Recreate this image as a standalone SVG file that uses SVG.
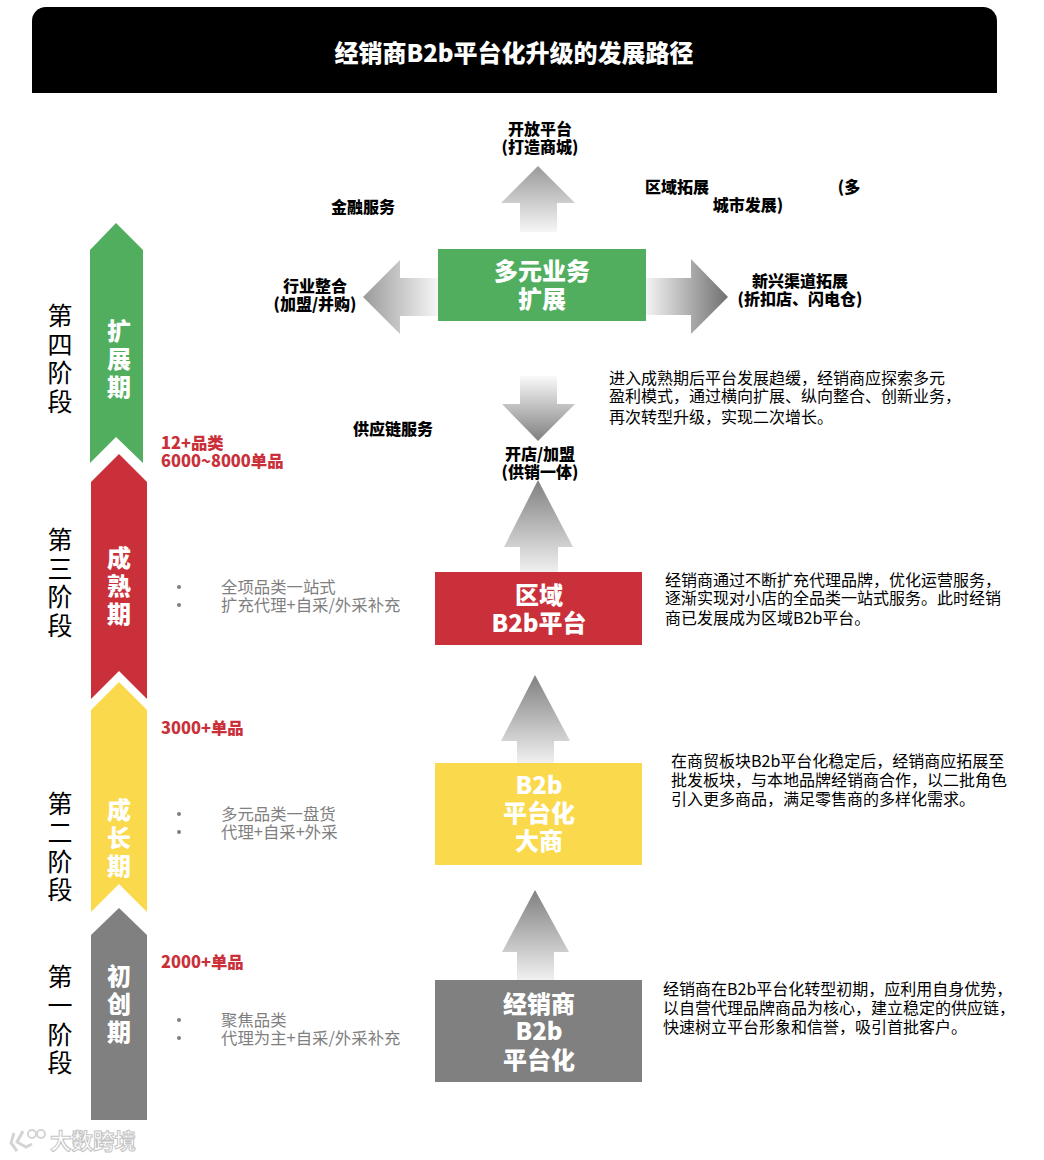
<svg xmlns="http://www.w3.org/2000/svg" width="1044" height="1160" viewBox="0 0 1044 1160">
<style>
text{font-family:"Noto Sans CJK SC","Noto Sans",sans-serif}
.t{font-weight:900;fill:#000;font-size:16px;text-anchor:middle}
.box{font-weight:900;fill:#fff;font-size:24px;text-anchor:middle}
.sm{font-weight:900;fill:#fff;font-size:24px;text-anchor:middle}
.st{font-size:25px;fill:#000;text-anchor:middle}
.red{font-weight:900;fill:#c9303a;font-size:16.4px}
.gr{font-size:16.4px;fill:#7f7f7f}
.d{font-size:16px;fill:#000}
</style>
<defs>
<linearGradient id="up" x1="0" y1="0" x2="0" y2="1"><stop offset="0" stop-color="#9a9a9a"/><stop offset="1" stop-color="#f6f6f6"/></linearGradient>
<linearGradient id="up2" x1="0" y1="0" x2="0" y2="1"><stop offset="0" stop-color="#808080"/><stop offset="1" stop-color="#f0f0f0"/></linearGradient>
<linearGradient id="down" x1="0" y1="0" x2="0" y2="1"><stop offset="0" stop-color="#fafafa"/><stop offset="1" stop-color="#7f7f7f"/></linearGradient>
<linearGradient id="left" x1="0" y1="0" x2="1" y2="0"><stop offset="0" stop-color="#9a9a9a"/><stop offset="1" stop-color="#f6f6f6"/></linearGradient>
<linearGradient id="right" x1="0" y1="0" x2="1" y2="0"><stop offset="0" stop-color="#f4f4f4"/><stop offset="1" stop-color="#707070"/></linearGradient>
</defs>
<rect width="1044" height="1160" fill="#fff"/>
<g id="header">
<path d="M32 93V21a14 14 0 0 1 14-14H983a14 14 0 0 1 14 14V93Z" fill="#000"/>
<text x="514" y="62" font-size="24" font-weight="900" fill="#fff" text-anchor="middle">经销商B2b平台化升级的发展路径</text>
</g>
<g id="connectors">
<polygon points="538,166 575,203 557,203 557,232 520,232 520,203 501,203" fill="url(#up)"/>
<polygon points="363,297 400,260 400,278 438,278 438,316 400,316 400,334" fill="url(#left)"/>
<polygon points="728,297 691,259 691,278 646,278 646,315 691,315 691,334" fill="url(#right)"/>
<polygon points="520,376 557,376 557,404 575,404 538,441 502,404 520,404" fill="url(#down)"/>
<polygon points="538,480 573,547 558,547 558,572 520,572 520,547 504,547" fill="url(#up2)"/>
<polygon points="535,675 570,741 554,741 554,763 517,763 517,741 501,741" fill="url(#up2)"/>
<polygon points="535,890 569,952 554,952 554,980 517,980 517,952 502,952" fill="url(#up2)"/>
</g>
<g id="stage4">
<polygon points="116,223 143,250 143,463 116,437 90,463 90,250" fill="#51ae5f"/>
<text class="sm" x="119" y="340">扩</text><text class="sm" x="119" y="368">展</text><text class="sm" x="119" y="396">期</text>
<text class="st" x="60" y="325">第</text><text class="st" x="60" y="354">四</text><text class="st" x="60" y="382">阶</text><text class="st" x="60" y="411">段</text>
</g>
<g id="stage3">
<polygon points="119,454 147,482 147,699 119,671 91,699 91,482" fill="#c9303a"/>
<text class="sm" x="119" y="567">成</text><text class="sm" x="119" y="595">熟</text><text class="sm" x="119" y="623">期</text>
<text class="st" x="60" y="549">第</text><text class="st" x="60" y="578">三</text><text class="st" x="60" y="606">阶</text><text class="st" x="60" y="635">段</text>
</g>
<g id="stage2">
<polygon points="119,682 147,710 147,912 119,884 91,912 91,710" fill="#fad94d"/>
<text class="sm" x="119" y="819">成</text><text class="sm" x="119" y="847">长</text><text class="sm" x="119" y="875">期</text>
<text class="st" x="60" y="813">第</text><text class="st" x="60" y="842">二</text><text class="st" x="60" y="871">阶</text><text class="st" x="60" y="899">段</text>
</g>
<g id="stage1">
<polygon points="119,908 147,935 147,1120 91,1120 91,935" fill="#808080"/>
<text class="sm" x="119" y="985">初</text><text class="sm" x="119" y="1013">创</text><text class="sm" x="119" y="1041">期</text>
<text class="st" x="60" y="986">第</text><text class="st" x="60" y="1015">一</text><text class="st" x="60" y="1044">阶</text><text class="st" x="60" y="1072">段</text>
</g>
<g id="stats">
<text class="red" x="161" y="449">12+品类</text>
<text class="red" x="161" y="467">6000~8000单品</text>
<text class="red" x="161" y="734">3000+单品</text>
<text class="red" x="161" y="968">2000+单品</text>
</g>
<g id="features" fill="#7f7f7f">
<circle cx="179" cy="587" r="2"/><circle cx="179" cy="605" r="2"/>
<text class="gr" x="221" y="593">全项品类一站式</text><text class="gr" x="221" y="611">扩充代理+自采/外采补充</text>
<circle cx="179" cy="814" r="2"/><circle cx="179" cy="832" r="2"/>
<text class="gr" x="221" y="820">多元品类一盘货</text><text class="gr" x="221" y="838">代理+自采+外采</text>
<circle cx="179" cy="1020" r="2"/><circle cx="179" cy="1038" r="2"/>
<text class="gr" x="221" y="1026">聚焦品类</text><text class="gr" x="221" y="1044">代理为主+自采/外采补充</text>
</g>
<g id="node-diversified">
<rect x="438" y="249" width="208" height="72" fill="#51ae5f"/>
<text class="box" x="542" y="280">多元业务</text><text class="box" x="542" y="308">扩展</text>
</g>
<g id="node-regional">
<rect x="435" y="572" width="207" height="73" fill="#c9303a"/>
<text class="box" x="539" y="604">区域</text><text class="box" x="539" y="632">B2b平台</text>
</g>
<g id="node-large">
<rect x="435" y="763" width="207" height="102" fill="#fad94d"/>
<text class="box" x="539" y="794">B2b</text><text class="box" x="539" y="822">平台化</text><text class="box" x="539" y="850">大商</text>
</g>
<g id="node-dealer">
<rect x="435" y="980" width="207" height="102" fill="#808080"/>
<text class="box" x="539" y="1013">经销商</text><text class="box" x="539" y="1040">B2b</text><text class="box" x="539" y="1069">平台化</text>
</g>
<g id="labels">
<text class="t" x="540" y="135">开放平台</text><text class="t" x="540" y="153">(打造商城)</text>
<text class="t" x="363" y="213">金融服务</text>
<text class="t" x="677" y="193">区域拓展</text><text class="t" x="849" y="193">(多</text><text class="t" x="748" y="211">城市发展)</text>
<text class="t" x="315" y="292">行业整合</text><text class="t" x="315" y="310">(加盟/并购)</text>
<text class="t" x="800" y="287">新兴渠道拓展</text><text class="t" x="800" y="305">(折扣店、闪电仓)</text>
<text class="t" x="393" y="435">供应链服务</text>
<text class="t" x="540" y="460">开店/加盟</text><text class="t" x="540" y="478">(供销一体)</text>
</g>
<g id="descriptions">
<text class="d" x="609" y="384">进入成熟期后平台发展趋缓，经销商应探索多元</text>
<text class="d" x="609" y="402">盈利模式，通过横向扩展、纵向整合、创新业务，</text>
<text class="d" x="609" y="423">再次转型升级，实现二次增长。</text>
<text class="d" x="665" y="586">经销商通过不断扩充代理品牌，优化运营服务，</text>
<text class="d" x="665" y="604">逐渐实现对小店的全品类一站式服务。此时经销</text>
<text class="d" x="665" y="624">商已发展成为区域B2b平台。</text>
<text class="d" x="671" y="767">在商贸板块B2b平台化稳定后，经销商应拓展至</text>
<text class="d" x="671" y="786">批发板块，与本地品牌经销商合作，以二批角色</text>
<text class="d" x="671" y="805">引入更多商品，满足零售商的多样化需求。</text>
<text class="d" x="663" y="995">经销商在B2b平台化转型初期，应利用自身优势，</text>
<text class="d" x="663" y="1014">以自营代理品牌商品为核心，建立稳定的供应链，</text>
<text class="d" x="663" y="1033">快速树立平台形象和信誉，吸引首批客户。</text>
</g>
<g id="watermark">
<text x="50" y="1149" font-size="21.5" font-weight="700" fill="#fff" stroke="#c4c4c4" stroke-width="1">大数跨境</text>
<path d="M14 1133 11 1143 17 1151M23 1131 17 1142 26 1147 32 1144" fill="none" stroke="#d4d4d4" stroke-width="3"/>
<circle cx="32" cy="1134" r="4" fill="none" stroke="#d4d4d4" stroke-width="2"/>
<circle cx="41" cy="1134" r="4" fill="none" stroke="#d4d4d4" stroke-width="2"/>
</g>
</svg>
